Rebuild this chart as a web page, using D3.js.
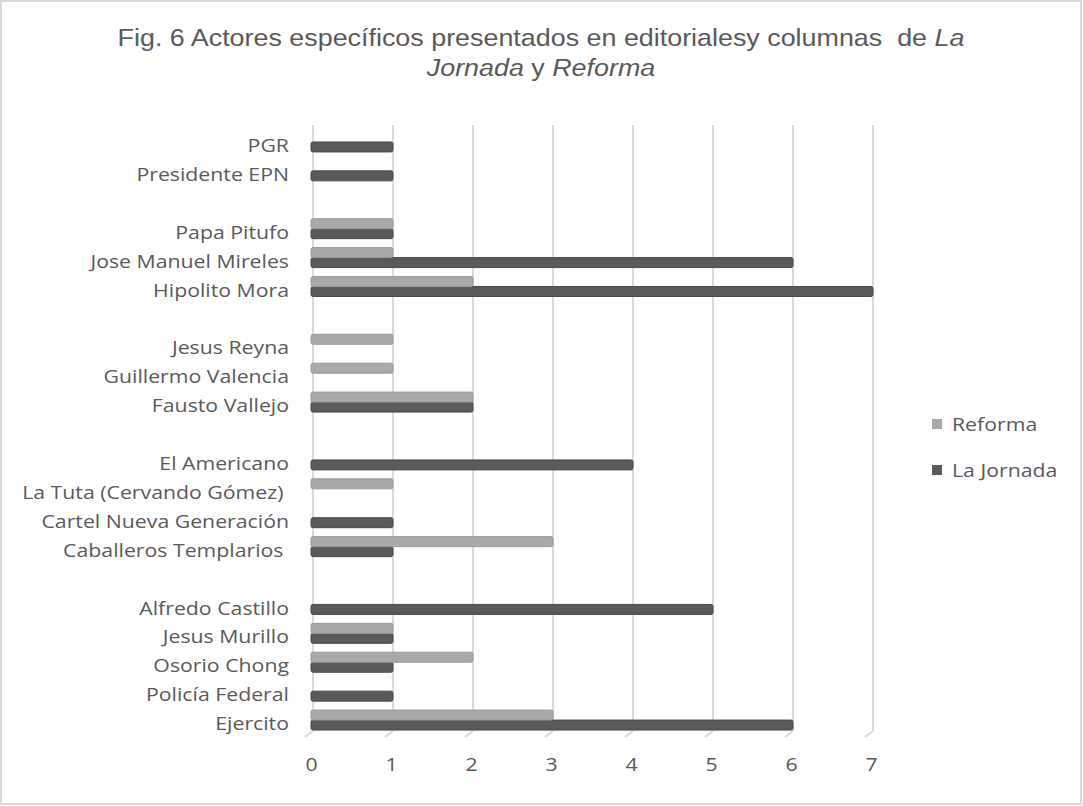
<!DOCTYPE html>
<html><head><meta charset="utf-8">
<script src="https://cdn.jsdelivr.net/npm/d3@7"></script>
<style>body{margin:0;background:#fff;} svg{display:block;} text{white-space:pre;}</style>
</head><body>
<svg id="chart" width="1083" height="806"></svg>
<script>
const categories = ["PGR","Presidente EPN","","Papa Pitufo","Jose Manuel Mireles","Hipolito Mora","","Jesus Reyna","Guillermo Valencia","Fausto Vallejo","","El Americano","La Tuta (Cervando Gómez) ","Cartel Nueva Generación","Caballeros Templarios ","","Alfredo Castillo","Jesus Murillo","Osorio Chong","Policía Federal","Ejercito"];
const reforma   = [0,0,null,1,1,2,null,1,1,2,null,0,1,0,3,null,0,1,2,0,3];
const laJornada = [1,1,null,1,6,7,null,0,0,2,null,4,0,1,1,null,5,1,1,1,6];
const xTicks = [0,1,2,3,4,5,6,7];
const seriesNames = ["Reforma","La Jornada"];
const seriesColors = ["#a9a9a9","#5a5a5a"];

const svg = d3.select("#chart");
svg.append("rect").attr("x",1).attr("y",1).attr("width",1080).attr("height",803)
  .attr("fill","#fff").attr("stroke","#d9d9d9").attr("stroke-width",2);

// Title
const title = svg.append("text").attr("text-anchor","middle")
  .attr("transform","translate(541,0) scale(1.12,1)")
  .attr("font-family","Liberation Sans, Arial, sans-serif").attr("font-size",24).attr("fill","#595959");
const t1 = title.append("tspan").attr("x",0).attr("y",46);
t1.append("tspan").text("Fig. 6 Actores específicos presentados en editorialesy columnas  de ");
t1.append("tspan").attr("font-style","italic").text("La");
const t2 = title.append("tspan").attr("x",0).attr("y",76);
t2.append("tspan").attr("font-style","italic").text("Jornada");
t2.append("tspan").text(" y ");
t2.append("tspan").attr("font-style","italic").text("Reforma");

const x = d3.scaleLinear().domain([0,7]).range([313,873]);
const idx = categories.map((d,i)=>i);
const y = d3.scaleBand().domain(idx).range([127.5,734.5]);
const font = "'Open Sans', sans-serif";
const fs = 19;
const sx = 1.12;

// gridlines
const g = svg.append("g");
xTicks.forEach(t=>{
  g.append("line").attr("x1",x(t)).attr("x2",x(t)).attr("y1",125).attr("y2",731)
    .attr("stroke","#d9d9d9").attr("stroke-width",2);
  g.append("line").attr("x1",x(t)).attr("x2",x(t)-8).attr("y1",731).attr("y2",737)
    .attr("stroke","#d9d9d9").attr("stroke-width",2);
});

// x axis labels via d3 axis
const xAxis = svg.append("g").attr("transform","translate(-2,758)")
  .call(d3.axisBottom(x).tickValues(xTicks).tickFormat(d3.format("d")).tickSize(0).tickPadding(0));
xAxis.select(".domain").remove();
xAxis.selectAll("text").attr("font-family",font).attr("font-size",fs).attr("fill","#595959")
  .attr("transform",`scale(${sx},1)`);

// y labels
const yAxis = svg.append("g").attr("transform",`translate(289,4) scale(${sx},1)`)
  .call(d3.axisLeft(y).tickFormat(i=>categories[i]).tickSize(0).tickPadding(0));
yAxis.select(".domain").remove();
yAxis.selectAll("text").attr("font-family",font).attr("font-size",fs).attr("fill","#595959");

// bars
const bh = 10;
function drawBars(vals, color, offset, edge){
  const bg = svg.append("g");
  vals.forEach((v,i)=>{
    if(!v) return;
    const yc = y(i) + y.bandwidth()/2 + offset;
    bg.append("rect").attr("x",x(0)-2).attr("y",yc).attr("width",x(v)-x(0)+2).attr("height",bh)
      .attr("rx",2).attr("fill",color).attr("stroke",edge).attr("stroke-width",1);
  });
}
drawBars(laJornada, seriesColors[1], 0, "#4a4a4a");
drawBars(reforma, seriesColors[0], -bh, "#9a9a9a");

// legend
const lg = svg.append("g");
seriesNames.forEach((n,i)=>{
  const ly = 424 + i*46;
  lg.append("rect").attr("x",932).attr("y",ly-5).attr("width",10).attr("height",10).attr("fill",seriesColors[i]);
  lg.append("text").attr("transform",`translate(952,${ly}) scale(${sx},1)`).attr("dy","0.35em").attr("font-family",font)
    .attr("font-size",fs).attr("fill","#595959").text(n);
});
</script>
</body></html>
